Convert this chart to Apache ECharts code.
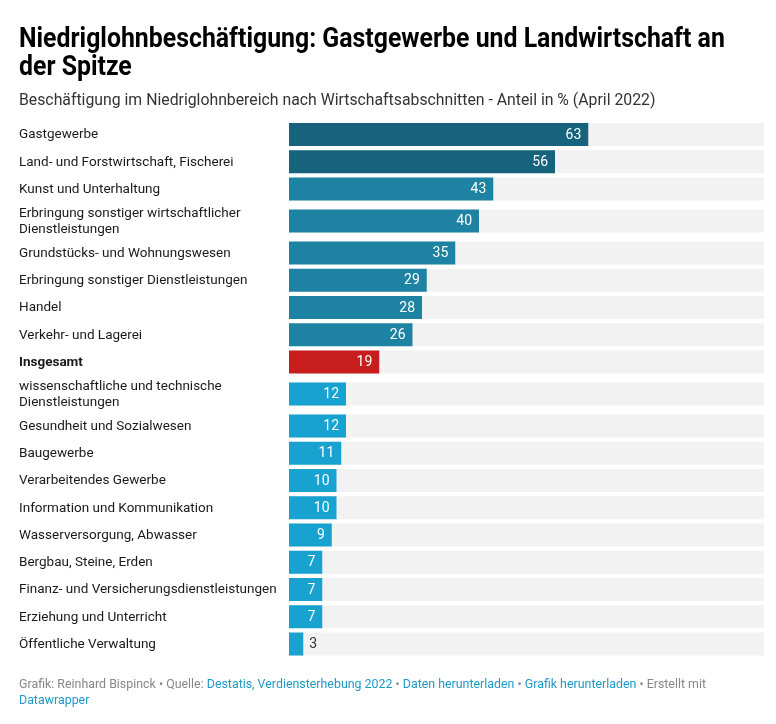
<!DOCTYPE html>
<html>
<head>
<meta charset="utf-8">
<script src="https://cdn.jsdelivr.net/npm/echarts@6/dist/echarts.min.js"></script>
<style>
html,body{margin:0;padding:0;background:#fff;}
#c{width:776px;height:724px;}
</style>
</head>
<body>
<div id="c"></div>
<script>
const titleLines = ["Niedriglohnbeschäftigung: Gastgewerbe und Landwirtschaft an", "der Spitze"];
const subtitle = "Beschäftigung im Niedriglohnbereich nach Wirtschaftsabschnitten - Anteil in % (April 2022)";
const categories = [
  "Gastgewerbe",
  "Land- und Forstwirtschaft, Fischerei",
  "Kunst und Unterhaltung",
  "Erbringung sonstiger wirtschaftlicher\nDienstleistungen",
  "Grundstücks- und Wohnungswesen",
  "Erbringung sonstiger Dienstleistungen",
  "Handel",
  "Verkehr- und Lagerei",
  "Insgesamt",
  "wissenschaftliche und technische\nDienstleistungen",
  "Gesundheit und Sozialwesen",
  "Baugewerbe",
  "Verarbeitendes Gewerbe",
  "Information und Kommunikation",
  "Wasserversorgung, Abwasser",
  "Bergbau, Steine, Erden",
  "Finanz- und Versicherungsdienstleistungen",
  "Erziehung und Unterricht",
  "Öffentliche Verwaltung"
];
const values = [63, 56, 43, 40, 35, 29, 28, 26, 19, 12, 12, 11, 10, 10, 9, 7, 7, 7, 3];
const highlight = "Insgesamt";
const xMax = 100;

// layout: row heights depend on number of label lines
const SINGLE = 27.25, DOUBLE = 36.75;
let acc = 0;
const rows = categories.map((c, i) => {
  const h = c.indexOf("\n") >= 0 ? DOUBLE : SINGLE;
  const center = acc + h / 2;
  acc += h;
  return [values[i], center, i];
});
const totalH = acc;

function barColor(i) {
  if (categories[i] === highlight) return "#c71e1d";
  const v = values[i];
  if (v > 50) return "#17627c";
  if (v > 20) return "#1e83a3";
  return "#18a2cf";
}

const chart = echarts.init(document.getElementById("c"), null, {renderer: "canvas"});
const FONT = "Roboto, 'Noto Sans', sans-serif";

chart.setOption({
  animation: false,
  graphic: [
    {type: "text", x: 19, y: 40.5, scaleX: 0.92,
      style: {text: titleLines[0], font: "bold 27px " + FONT, fill: "#000", textVerticalAlign: "middle"}},
    {type: "text", x: 19, y: 68.5, scaleX: 0.92,
      style: {text: titleLines[1], font: "bold 27px " + FONT, fill: "#000", textVerticalAlign: "middle"}},
    {type: "text", x: 19, y: 101.5,
      style: {text: subtitle, font: "15.8px " + FONT, fill: "#333", textVerticalAlign: "middle"}}
  ],
  title: [
    {
      text: "{g|Grafik: Reinhard Bispinck • Quelle: }{l|Destatis, Verdiensterhebung 2022}{g| • }{l|Daten herunterladen}{g| • }{l|Grafik herunterladen}{g| • Erstellt mit}\n{l|Datawrapper}",
      left: 19, top: 677, padding: 0,
      textStyle: {
        fontFamily: FONT, fontSize: 12.4, lineHeight: 16, fontWeight: "normal",
        rich: {
          g: {fontFamily: FONT, fontSize: 12.4, color: "#888", lineHeight: 16, fontWeight: "normal"},
          l: {fontFamily: FONT, fontSize: 12.4, color: "#1d9ac7", lineHeight: 16, fontWeight: "normal"}
        }
      }
    }
  ],
  grid: {left: 289, right: 12, top: 120.9, height: totalH},
  xAxis: {type: "value", min: 0, max: xMax, show: false},
  yAxis: {type: "value", min: 0, max: totalH, inverse: true, show: false},
  series: [{
    type: "custom",
    data: rows,
    clip: false,
    renderItem: function (params, api) {
      const v = api.value(0), y = api.value(1), i = api.value(2);
      const p0 = api.coord([0, y]);
      const p1 = api.coord([v, y]);
      const pf = api.coord([xMax, y]);
      const h = api.size([0, 23])[1];
      const top = p0[1] - h / 2;
      const isHi = categories[i] === highlight;
      const barW = p1[0] - p0[0];
      const inside = barW > 25;
      return {
        type: "group",
        children: [
          {type: "rect", shape: {x: p0[0], y: top, width: pf[0] - p0[0], height: h}, style: {fill: "#f2f2f2"}},
          {type: "rect", shape: {x: p0[0], y: top, width: barW, height: h}, style: {fill: barColor(i)}},
          {type: "text", x: inside ? p1[0] - 7 : p1[0] + 6, y: p0[1] + 0.5,
            style: {text: String(v), fill: inside ? "#fff" : "#333", font: "14px " + FONT,
              textAlign: inside ? "right" : "left", textVerticalAlign: "middle"}},
          {type: "text", x: 19, y: p0[1] + 0.5,
            style: {text: categories[i], fill: "#1a1a1a", font: (isHi ? "bold " : "") + "13.5px " + FONT,
              textAlign: "left", textVerticalAlign: "middle", lineHeight: 16}}
        ]
      };
    }
  }]
});
</script>
</body>
</html>
